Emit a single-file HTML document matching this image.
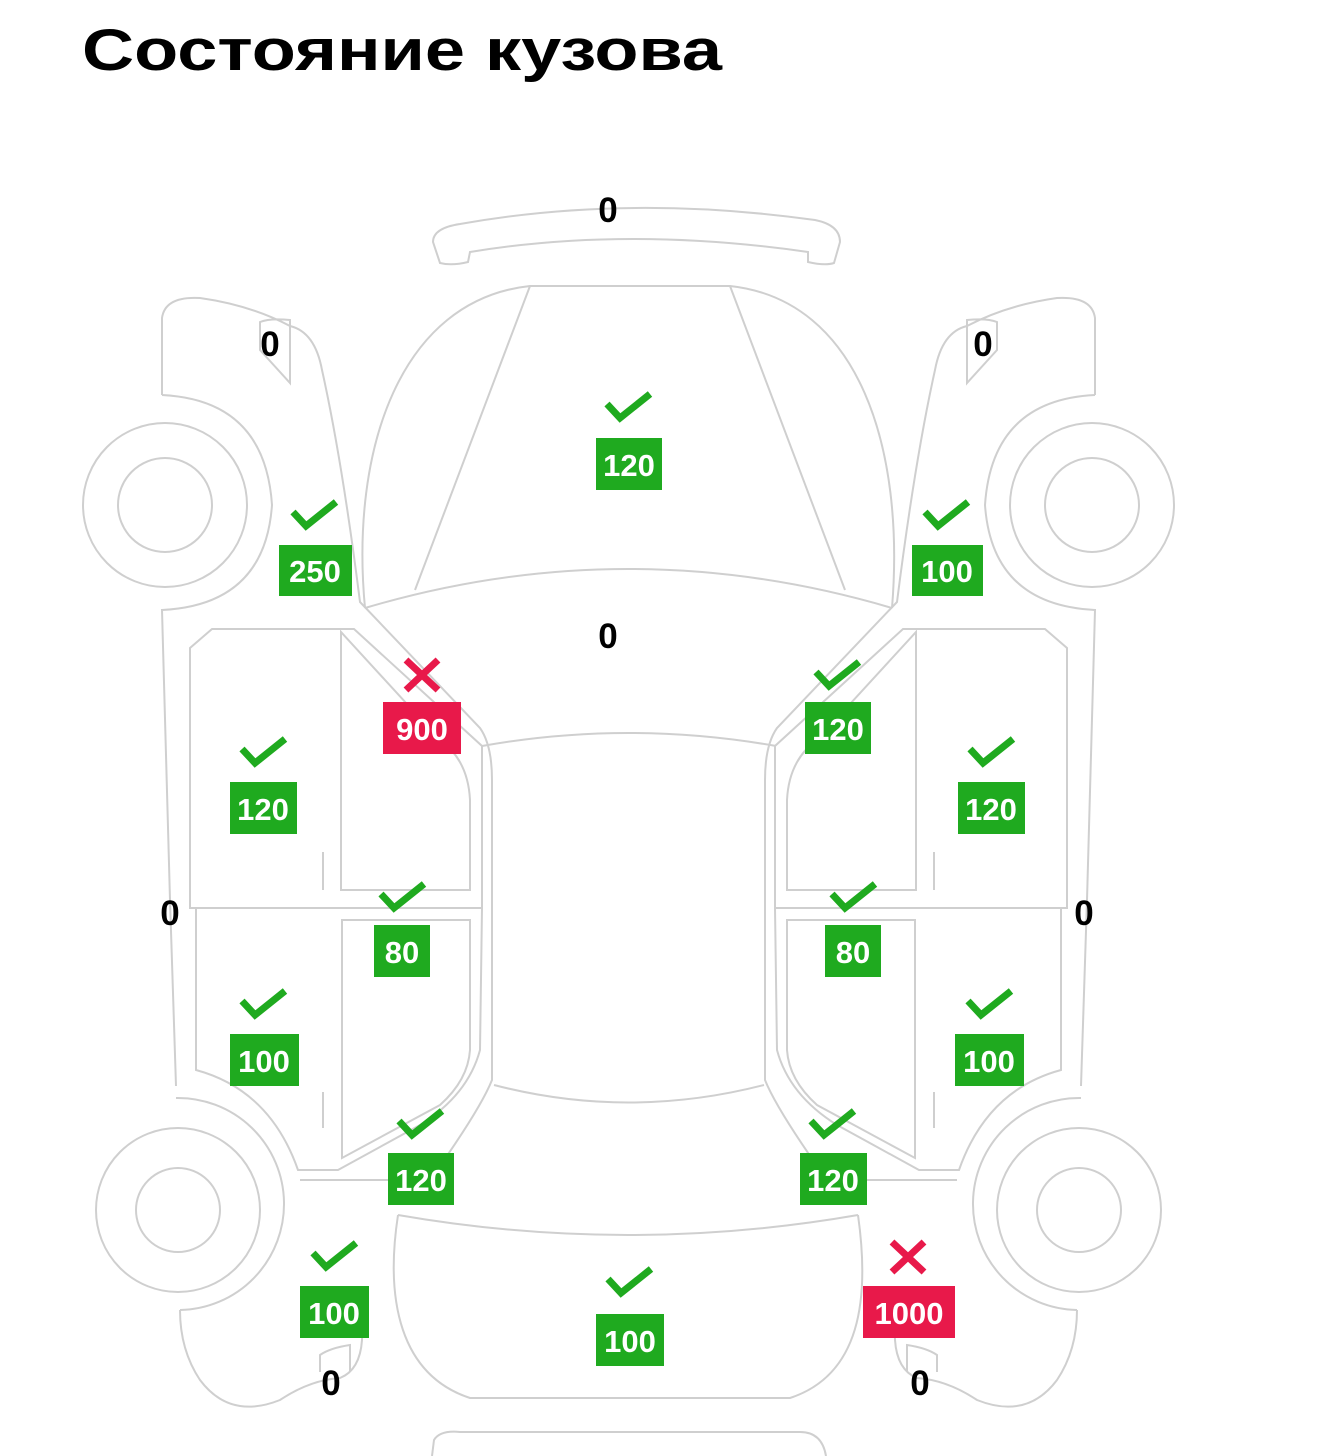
<!DOCTYPE html>
<html><head><meta charset="utf-8"><style>
html,body{margin:0;padding:0;background:#fff;width:1344px;height:1456px;overflow:hidden}
svg{display:block}
.t{font-family:"Liberation Sans",sans-serif;font-weight:bold}
</style></head><body>
<svg width="1344" height="1456" viewBox="0 0 1344 1456" xmlns="http://www.w3.org/2000/svg">
<text x="82" y="70" class="t" font-size="58" fill="#000" textLength="640" lengthAdjust="spacingAndGlyphs">Состояние кузова</text>
<g fill="none" stroke="#cfcfcf" stroke-width="2">
<path d="M440,263 L433,242 Q433,228 460,224 Q628,194 815,220 Q840,225 840,242 L834,263 Q825,266 808,262 L808,252 Q628,226 470,252 L468,262 Q452,266 440,263 Z"/>
<path d="M365,608 C350,450 400,300 530,286 L730,286 C860,300 905,450 892,608"/>
<path d="M530,286 L415,590 M730,286 L845,590"/>
<path d="M365,608 Q628,530 892,608"/>
<path d="M482,746 Q628,720 776,746"/>
<path d="M494,1085 Q628,1120 764,1085"/>
<path d="M398,1215 Q628,1255 858,1215"/>
<path d="M398,1215 C385,1300 400,1375 470,1398 L790,1398 C860,1375 870,1300 858,1215"/>
<path d="M432,1456 L434,1440 Q440,1430 460,1432 L800,1432 Q822,1432 826,1456"/>
<g id="half">
<circle cx="165" cy="505" r="82"/><circle cx="165" cy="505" r="47"/>
<circle cx="178" cy="1210" r="82"/><circle cx="178" cy="1210" r="42"/>
<path d="M162,395 L162,318 Q165,296 200,298 Q250,305 290,326 Q315,332 322,370 Q342,460 360,602 L480,728 Q492,745 492,780 L492,1080 Q480,1110 430,1180 L300,1180"/>
<path d="M162,395 Q265,400 272,505 Q265,605 162,610 L170,900 L176,1086"/>
<path d="M176,1098 A106,106 0 0 1 180,1310"/>
<path d="M180,1310 Q180,1350 200,1380 Q230,1420 280,1400 Q310,1380 340,1378 Q360,1370 362,1340 L364,1290"/>
<path d="M260,350 L260,322 Q270,318 290,320 L290,383 Z"/>
<path d="M190,908 L190,648 L212,629 L354,629 L482,746 L482,908 Z"/>
<path d="M341,632 L341,890 L470,890 L470,800 Q468,760 440,740 Z"/>
<path d="M196,908 L196,1070 Q270,1090 298,1170 L338,1170 L420,1125 Q468,1095 480,1050 L482,908"/>
<path d="M342,920 L342,1158 L440,1105 Q468,1080 470,1050 L470,920 Z"/>
<path d="M323,852 L323,890 M323,1092 L323,1128"/>
<path d="M320,1372 L320,1355 Q330,1348 350,1345 L350,1372"/>
</g>
<use href="#half" transform="translate(1257,0) scale(-1,1)"/>
</g>
<g class="t" font-size="35" fill="#000" text-anchor="middle">
<text x="608" y="222">0</text><text x="270" y="356">0</text><text x="983" y="356">0</text>
<text x="608" y="648">0</text><text x="170" y="925">0</text><text x="1084" y="925">0</text>
<text x="331" y="1395">0</text><text x="920" y="1395">0</text>
</g>
<g class="t" font-size="31" fill="#fff" text-anchor="middle">
<g fill="#1faa1f">
<rect x="596" y="438" width="66" height="52"/><rect x="279" y="545" width="73" height="51"/>
<rect x="912" y="545" width="71" height="51"/><rect x="805" y="702" width="66" height="52"/>
<rect x="230" y="782" width="67" height="52"/><rect x="958" y="782" width="67" height="52"/>
<rect x="374" y="925" width="56" height="52"/><rect x="825" y="925" width="56" height="52"/>
<rect x="230" y="1034" width="69" height="52"/><rect x="955" y="1034" width="69" height="52"/>
<rect x="388" y="1153" width="66" height="52"/><rect x="800" y="1153" width="67" height="52"/>
<rect x="300" y="1286" width="69" height="52"/><rect x="596" y="1314" width="68" height="52"/>
</g>
<g fill="#e8194a"><rect x="383" y="702" width="78" height="52"/><rect x="863" y="1286" width="92" height="52"/></g>
<text x="629" y="476">120</text><text x="315" y="582">250</text><text x="947" y="582">100</text>
<text x="422" y="740">900</text><text x="838" y="740">120</text>
<text x="263" y="820">120</text><text x="991" y="820">120</text>
<text x="402" y="963">80</text><text x="853" y="963">80</text>
<text x="264" y="1072">100</text><text x="989" y="1072">100</text>
<text x="421" y="1191">120</text><text x="833" y="1191">120</text>
<text x="334" y="1324">100</text><text x="630" y="1352">100</text><text x="909" y="1324">1000</text>
</g>
<g fill="none" stroke="#1faa1f" stroke-width="7">
<path d="M607,404 L620,418 L650,394"/><path d="M293,512 L306,526 L336,502"/>
<path d="M925,512 L938,526 L968,502"/><path d="M816,672 L829,686 L859,662"/>
<path d="M242,749 L255,763 L285,739"/><path d="M970,749 L983,763 L1013,739"/>
<path d="M381,894 L394,908 L424,884"/><path d="M832,894 L845,908 L875,884"/>
<path d="M242,1001 L255,1015 L285,991"/><path d="M968,1001 L981,1015 L1011,991"/>
<path d="M399,1121 L412,1135 L442,1111"/><path d="M811,1121 L824,1135 L854,1111"/>
<path d="M313,1253 L326,1267 L356,1243"/><path d="M608,1279 L621,1293 L651,1269"/>
</g>
<g stroke="#e8194a" stroke-width="7"><path d="M406,660 L438,690 M438,660 L406,690"/><path d="M892,1242 L924,1272 M924,1242 L892,1272"/></g>
</svg>
</body></html>
